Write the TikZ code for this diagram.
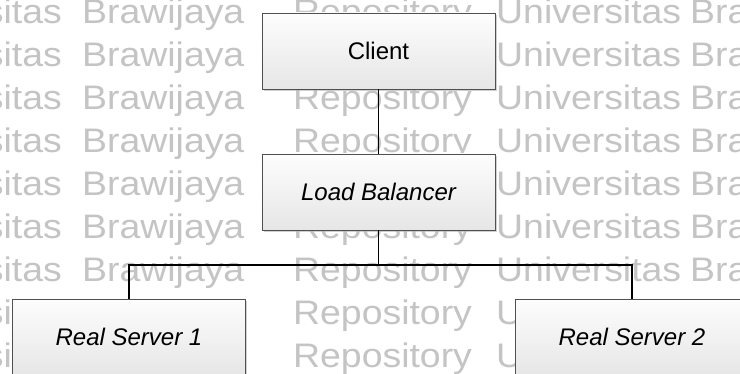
\documentclass[tikz,border=0pt]{standalone}
\usepackage{fontspec}
\setmainfont{Liberation Sans}
\usetikzlibrary{shadows}

\definecolor{wmgray}{RGB}{196,196,196}
\definecolor{boxline}{RGB}{80,80,80}
\definecolor{boxtop}{RGB}{253,253,253}
\definecolor{boxbottom}{RGB}{230,230,230}

\tikzset{
  wm/.style={inner sep=0pt, text=wmgray,
    font=\fontsize{34}{40}\selectfont},
  unit/.style={draw=boxline, line width=0.8pt,
    top color=boxtop, bottom color=boxbottom,
    minimum width=233pt, minimum height=76pt, inner sep=0pt,
    font=\fontsize{24}{28}\selectfont,
    drop shadow={shadow xshift=1.6pt, shadow yshift=-1.6pt,
      fill=black!30, opacity=0.6}},
  link/.style={draw=black, line width=1.3pt}
}

\newcommand{\wmword}[1]{\scalebox{1.1}[1]{#1}}

\begin{document}
\begin{tikzpicture}[x=1pt, y=-1pt]
  \useasboundingbox (0,0) rectangle (740,374);
  \fill[white] (0,0) rectangle (740,374);

  % repository watermark, tiled in rows (words hidden behind boxes left out)
  \begin{scope}
    \clip (0,0) rectangle (740,374);
    \foreach \k in {0,...,8} {
      \pgfmathsetmacro{\yb}{24+43*\k}
      \node[wm, anchor=base east] (wa\k) at (62,\yb) {\wmword{Universitas}};
      \ifnum\k<7
        \node[wm, anchor=base west] (wb\k) at (82,\yb) {\wmword{Brawijaya}};
        \node[wm, anchor=base west] (wd\k) at (496,\yb) {\wmword{Universitas}};
        \node[wm, anchor=base west] (we\k) at (690,\yb) {\wmword{Brawijaya}};
      \else
        \node[wm, anchor=base west] (wd\k) at (496,\yb) {\wmword{U}};
      \fi
      \ifnum\k=1 \else\ifnum\k=4 \else
        \node[wm, anchor=base west] (wc\k) at (293,\yb) {\wmword{Repository}};
      \fi\fi
    }
  \end{scope}

  % boxes
  \node[unit] (client) at (378.5,51) {Client};
  \node[unit] (lb) at (378.5,192) {\itshape Load Balancer};
  \node[unit] (rs1) at (129,337) {\itshape Real Server 1};
  \node[unit] (rs2) at (632,337) {\itshape Real Server 2};

  % connectors
  \coordinate (hub) at (lb.south |- 0,265);
  \draw[link] (client.south) -- (lb.north);
  \draw[link] (lb.south) -- (hub);
  \draw[link] (rs1.north) |- (hub) -| (rs2.north);
\end{tikzpicture}
\end{document}
